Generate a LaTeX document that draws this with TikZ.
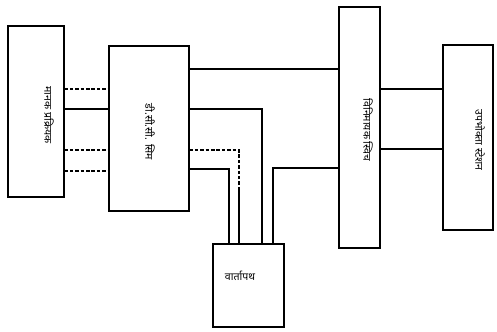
\documentclass[tikz,border=0pt]{standalone}
\usepackage{fontspec}
\newfontfamily\hindi[Script=Devanagari]{Noto Sans}
\usetikzlibrary{fit}

\begin{document}
\begin{tikzpicture}[
				x=0.03cm, y=-0.03cm,
				box/.style = {draw, line width=0.9pt, inner sep=0pt},
				line/.style = {line width=1.3pt},
				dline/.style = {line, dash pattern=on 3pt off 1.6pt},
				txt/.style = {rotate=-90, font=\hindi\small, inner sep=0pt}
				]
				\useasboundingbox (0,0) rectangle (497,331);
				
				\node[box, fit={(8,26) (64,197)}] (proc) {};
				\node[box, fit={(109,46) (189,211)}] (dcc) {};
				\node[box, fit={(339,7) (380,248)}] (swt) {};
				\node[box, fit={(443,45) (493,230)}] (user) {};
				\node[box, fit={(213,244) (284,327)}] (path) {};
				
				\node[txt] (proctxt) at (49,115) {मानक प्रक्रियक};
				\node[txt] (dcctxt) at (150,132) {डी.सी.सी. सिम};
				\node[txt] (swttxt) at (368,130) {विनिमायक स्विच};
				\node[txt] (usertxt) at (480,140) {उपभोक्ता स्टेशन};
				\node[font=\hindi\small, inner sep=0pt] (pathtxt) at (240,276) {वार्तापथ};
				
				\draw[dline] (proc.east |- 0,89) -- (dcc.west |- 0,89);
				\draw[line] (proc.east |- 0,109) -- (dcc.west |- 0,109);
				\draw[dline] (proc.east |- 0,150) -- (dcc.west |- 0,150);
				\draw[dline] (proc.east |- 0,171) -- (dcc.west |- 0,171);
				
				\coordinate (brk) at (239,188);
				\draw[line] (dcc.east |- 0,69) -- (swt.west |- 0,69);
				\draw[line] (dcc.east |- 0,109) -| (path.north -| 262,0);
				\draw[dline] (dcc.east |- 0,150) -| (brk);
				\draw[line] (brk) -- (path.north -| brk);
				\draw[line] (dcc.east |- 0,169) -| (path.north -| 229,0);
				\draw[line] (swt.west |- 0,168) -| (path.north -| 273,0);
				
				\draw[line] (swt.east |- 0,89) -- (user.west |- 0,89);
				\draw[line] (swt.east |- 0,149) -- (user.west |- 0,149);
			\end{tikzpicture}
\end{document}
